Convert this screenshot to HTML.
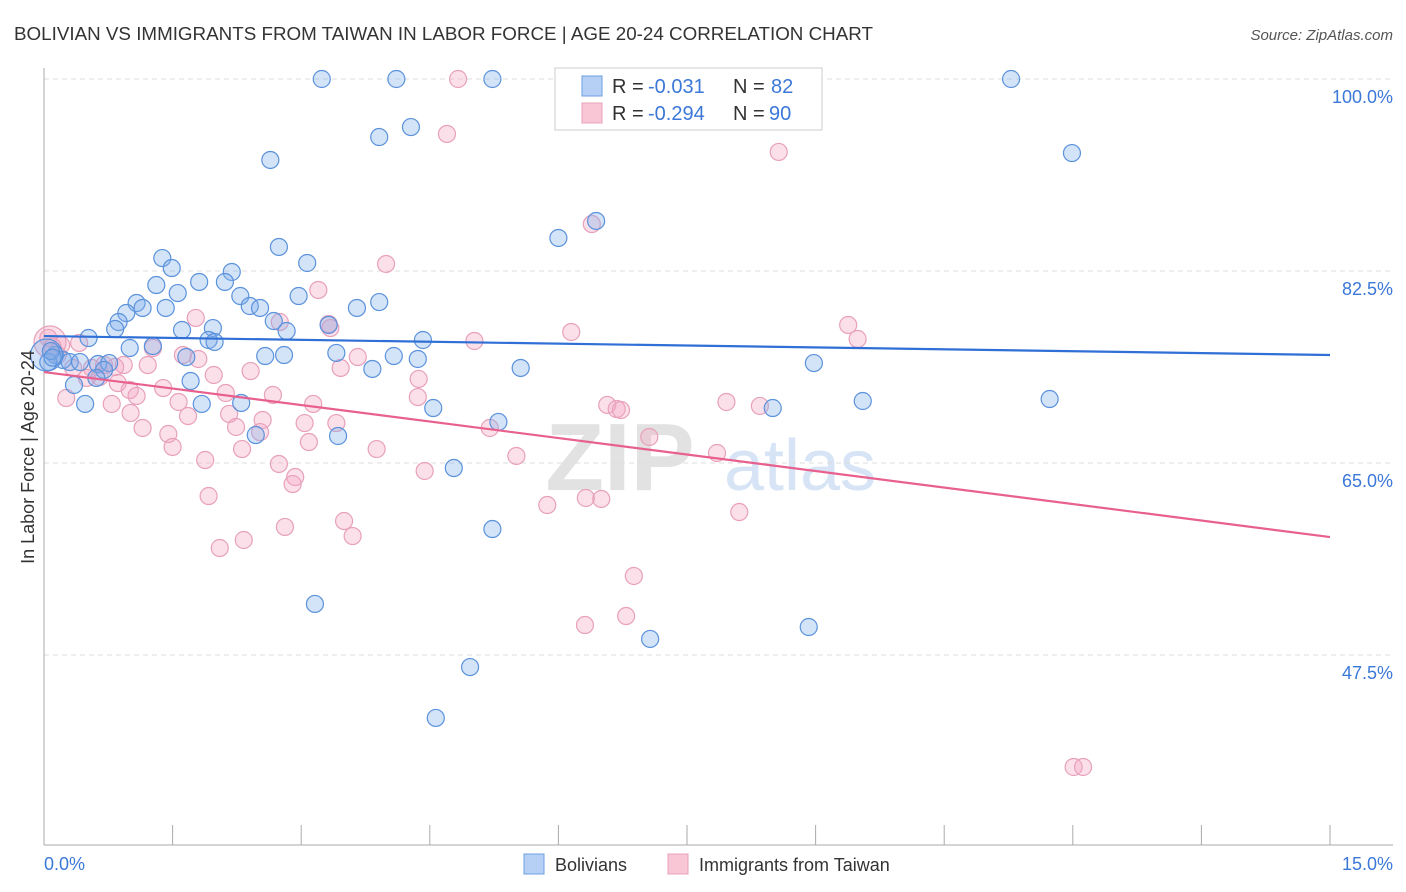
<!DOCTYPE html>
<html><head><meta charset="utf-8">
<style>
body{margin:0;background:#fff;font-family:"Liberation Sans",sans-serif;}
svg{display:block}
</style></head>
<body>
<svg id="chart" width="1406" height="892">
<text x="14" y="40" font-size="18" fill="#333" textLength="859" lengthAdjust="spacingAndGlyphs">BOLIVIAN VS IMMIGRANTS FROM TAIWAN IN LABOR FORCE | AGE 20-24 CORRELATION CHART</text>
<text x="1393" y="40" font-size="15" fill="#555" font-style="italic" text-anchor="end">Source: ZipAtlas.com</text>
<text x="620" y="490" font-size="96" font-weight="bold" fill="#e2e2e2" text-anchor="middle">ZIP</text>
<text x="800" y="490" font-size="72" fill="#d6e4f5" text-anchor="middle">atlas</text>
<g id="grid"></g>
<g id="axes"></g>
<g id="pts"></g>
<g id="lines"></g>
<text transform="translate(34,457) rotate(-90)" font-size="18" fill="#333" text-anchor="middle">In Labor Force | Age 20-24</text>
<g>
<rect x="555" y="68" width="267" height="62" fill="#fff" stroke="#ccc"/>
<rect x="582" y="76" width="20" height="20" fill="#b5cff5" stroke="#6f9fe0"/>
<rect x="582" y="103" width="20" height="20" fill="#f9c6d6" stroke="#e8a0bb"/>
<text y="93" font-size="20" fill="#333"><tspan x="612">R =</tspan><tspan x="648" fill="#3b78d8">-0.031</tspan><tspan x="733">N =</tspan><tspan x="771" fill="#3b78d8">82</tspan></text>
<text y="120" font-size="20" fill="#333"><tspan x="612">R =</tspan><tspan x="648" fill="#3b78d8">-0.294</tspan><tspan x="733">N =</tspan><tspan x="769" fill="#3b78d8">90</tspan></text>
</g>
<g>
<rect x="524" y="854" width="20" height="20" fill="#b5cff5" stroke="#6f9fe0"/>
<text x="555" y="871" font-size="18" fill="#333">Bolivians</text>
<rect x="668" y="854" width="20" height="20" fill="#f9c6d6" stroke="#e8a0bb"/>
<text x="699" y="871" font-size="18" fill="#333">Immigrants from Taiwan</text>
</g>
</svg>
<script>
const yTicks=[100,82.5,65,47.5];
const yTickLabels=["100.0%","82.5%","65.0%","47.5%"];
const xTickLabels=["0.0%","15.0%"];
const blueX=[3.24,4.11,5.23,11.28,11.99,4.28,3.91,2.64,6.44,6.00,2.74,3.07,1.38,1.49,2.19,1.31,1.81,2.11,1.56,2.29,2.97,3.91,1.08,1.15,1.42,2.40,2.52,3.65,0.96,0.87,0.83,1.61,1.97,2.68,2.83,3.32,1.92,1.99,0.52,4.42,1.00,1.27,1.66,2.58,2.80,3.41,4.08,4.36,3.83,5.56,8.98,0.13,0.22,0.30,0.42,0.63,0.76,0.70,0.61,0.35,1.71,0.48,1.84,2.30,4.54,9.55,11.73,8.50,5.30,2.47,3.43,4.78,5.23,3.16,7.07,8.92,4.97,4.57,0.03,0.05,0.08,0.10];
const blueY=[100,100,100,100,93.25,95.62,94.71,92.62,87.06,85.51,84.69,83.23,83.68,82.77,82.41,81.22,81.50,81.50,80.49,80.22,80.22,79.67,79.58,79.13,79.13,79.31,79.13,79.13,78.67,77.85,77.21,77.12,77.30,77.94,77.03,77.58,76.21,76.03,76.39,76.21,75.48,75.66,74.66,74.75,74.84,75.03,74.75,74.48,73.57,73.66,74.11,74.84,74.39,74.20,74.20,74.02,74.11,73.48,72.75,72.11,72.47,70.38,70.38,70.47,70.01,70.65,70.83,70.01,68.74,67.55,67.46,64.54,58.98,52.15,48.96,50.05,46.40,41.76,74.84,74.2,75.2,74.6];
const pinkX=[4.83,4.70,8.57,6.39,3.99,3.20,0.41,0.20,0.07,0.16,6.15,3.32,3.34,1.77,2.75,9.38,9.49,5.02,1.27,1.62,1.80,3.66,3.46,0.93,0.56,0.83,0.70,1.21,0.34,0.65,0.50,0.86,1.00,1.39,1.08,1.98,2.41,4.37,0.26,0.79,1.57,4.36,6.57,6.68,6.73,7.96,8.35,2.12,2.67,3.14,1.01,1.68,2.16,2.24,2.55,2.52,3.04,3.41,5.20,7.06,1.15,1.45,1.50,3.09,3.88,2.31,7.85,5.51,1.88,2.74,2.93,2.90,4.44,1.92,5.87,6.32,6.50,8.11,3.50,2.81,3.60,2.33,2.05,6.88,6.31,6.79,12.01,12.12,0.05,0.1];
const pinkY=[100,94.99,93.35,86.78,83.14,80.77,75.94,75.75,76.03,74.84,76.94,77.67,77.30,78.22,77.85,77.58,76.30,76.12,75.48,74.84,74.48,74.66,73.66,73.93,73.66,73.75,73.93,73.93,73.66,72.84,72.75,72.29,71.65,71.83,71.11,73.02,73.38,72.66,70.92,70.38,70.56,71.01,70.29,69.92,69.83,70.56,70.20,71.38,71.20,70.38,69.56,69.28,69.47,68.28,68.92,67.82,68.64,68.64,68.19,67.37,68.19,67.64,66.46,66.91,66.27,66.27,65.91,65.64,65.27,64.91,63.72,63.08,64.27,61.99,61.17,61.81,61.72,60.53,59.71,59.17,58.34,57.98,57.25,54.70,50.23,51.05,37.29,37.29,76.4,75.6];
const blueTrend=[76.57,74.84];
const pinkTrend=[73.29,58.25];
const NS="http://www.w3.org/2000/svg";
const X0=44,X1=1330,Y100=79,PXPER=10.971;
function sx(v){return X0+(X1-X0)*v/15;}
function sy(v){return Y100+(100-v)*PXPER;}
function mk(tag,attrs,parent){const e=document.createElementNS(NS,tag);for(const k in attrs)e.setAttribute(k,attrs[k]);parent.appendChild(e);return e;}
const grid=document.getElementById('grid'),axes=document.getElementById('axes'),pts=document.getElementById('pts'),lines=document.getElementById('lines');
yTicks.forEach((t,i)=>{
 const l=mk('line',{x1:X0,x2:1393,y1:sy(t),y2:sy(t),stroke:'#ddd','stroke-dasharray':'5,4'},grid);
 
 
 const tx=mk('text',{x:1393,y:sy(t)+24,'font-size':18,fill:'#3b78d8','text-anchor':'end'},axes);
 tx.textContent=yTickLabels[i];
 
 
});
let a=mk('line',{x1:X0,x2:X0,y1:68,y2:845,stroke:'#aaa'},axes);


a=mk('line',{x1:X0,x2:1393,y1:845,y2:845,stroke:'#aaa'},axes);


for(let i=0;i<=10;i++){
 const t=mk('line',{x1:sx(i*1.5),x2:sx(i*1.5),y1:825,y2:845,stroke:'#aaa'},axes);
 
 
}
[[0,'start',44],[15,'end',1393]].forEach((d,i)=>{
 const tx=mk('text',{x:d[2],y:870,'font-size':18,fill:'#3b78d8','text-anchor':d[1]},axes);
 tx.textContent=xTickLabels[i];
 
 
});
function drawSeries(xs,ys,fill,stroke,name,bigIdx){
 xs.forEach((x,i)=>{
  const c=mk('circle',{cx:sx(x),cy:sy(ys[i]),r:(i===bigIdx?16:8.5),fill:fill,stroke:stroke,'stroke-width':1.2},pts);
  
  
 });
}
drawSeries(pinkX,pinkY,'rgba(244,166,194,0.35)','#e8a0bb','taiwan-point',8);
drawSeries(blueX,blueY,'rgba(130,175,235,0.35)','#5b92dc','bolivian-point',78);
let tl=mk('line',{x1:sx(0),x2:sx(15),y1:sy(blueTrend[0]),y2:sy(blueTrend[1]),stroke:'#2f6fd6','stroke-width':2.2},lines);


tl=mk('line',{x1:sx(0),x2:sx(15),y1:sy(pinkTrend[0]),y2:sy(pinkTrend[1]),stroke:'#e8608e','stroke-width':2.2},lines);


</script>
</body></html>
